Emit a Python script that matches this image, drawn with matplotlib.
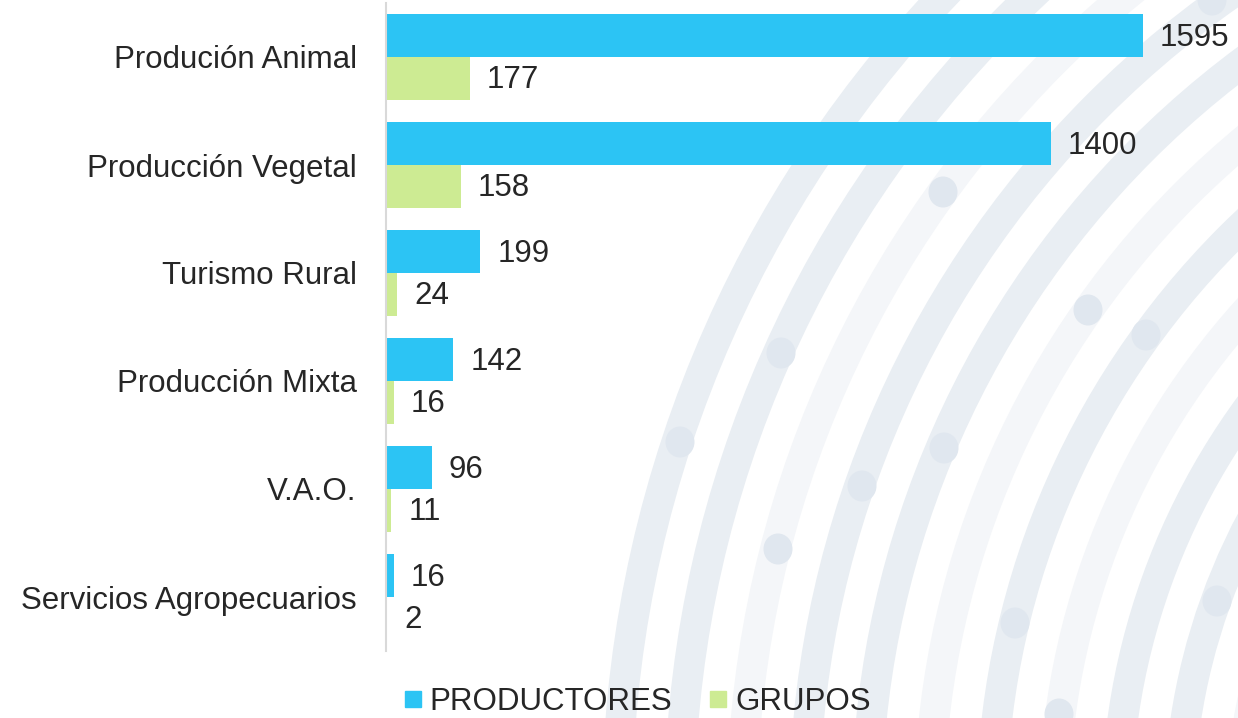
import numpy as np
import matplotlib
matplotlib.use("Agg")
import matplotlib.pyplot as plt
from matplotlib.patches import Circle, Ellipse
from matplotlib.lines import Line2D

plt.rcParams["font.family"] = ["Liberation Sans", "DejaVu Sans"]

# --- data ---
categories = ["Produción Animal", "Producción Vegetal", "Turismo Rural",
              "Producción Mixta", "V.A.O.", "Servicios Agropecuarios"]
productores = [1595, 1400, 199, 142, 96, 16]
grupos = [177, 158, 24, 16, 11, 2]
series_names = ["PRODUCTORES", "GRUPOS"]

blue = "#2cc4f4"
green = "#cdeb93"
text_col = "#262626"
dark_band = "#e9eef3"
light_band = "#f4f6f9"

W, H = 1238, 718
fig = plt.figure(figsize=(W / 100, H / 100), dpi=100)

# --- decorative background arcs, in pixel coordinates ---
bg = fig.add_axes([0, 0, 1, 1], zorder=0)
bg.set_xlim(0, W)
bg.set_ylim(H, 0)
bg.axis("off")
cx, cy = 1806, 814
radii = 1189 - 62.4 * np.arange(12)
shades = [dark_band, dark_band, light_band, dark_band, dark_band, light_band,
          dark_band, light_band, dark_band, dark_band, light_band, dark_band]
for r, c in zip(radii, shades):
    bg.add_patch(Circle((cx, cy), r, fill=False, ec=c, lw=22))
dots = [(943, 192), (1088, 310), (1146, 335), (781, 353), (680, 442), (944, 448),
        (862, 486), (778, 549), (1015, 623), (1217, 601), (1059, 714), (1212, 0)]
for d in dots:
    bg.add_patch(Ellipse(d, 29, 31, fc="#e0e7ef", ec="none"))

# --- main chart ---
ax = fig.add_axes([386 / W, 1 - 651 / H, (W - 386) / W, 648 / H], zorder=1)
ax.patch.set_alpha(0)

y = np.arange(len(categories))
h = 0.394
ax.barh(y - h / 2, productores, height=h, color=blue, label=series_names[0])
ax.barh(y + h / 2, grupos, height=h, color=green, label=series_names[1])

for yi, v in zip(y - h / 2, productores):
    ax.annotate(str(v), (v, yi), xytext=(12.2, -1.5), textcoords="offset points",
                va="center", ha="left", fontsize=22.5, color=text_col)
for yi, v in zip(y + h / 2, grupos):
    ax.annotate(str(v), (v, yi), xytext=(12.2, -1.5), textcoords="offset points",
                va="center", ha="left", fontsize=22.5, color=text_col)

ax.set_xlim(0, 1795)
ax.set_ylim(len(categories) - 0.5, -0.5)
ax.set_yticks(y)
ax.set_yticklabels(categories, fontsize=22.5, color=text_col)
ax.tick_params(axis="y", length=0, pad=21)
ax.set_xticks([])
for s in ["top", "right", "bottom"]:
    ax.spines[s].set_visible(False)
ax.spines["left"].set_color("#d9d9d9")
ax.spines["left"].set_linewidth(1.5)

handles = [Line2D([], [], marker="s", ls="none", ms=11, color=blue),
           Line2D([], [], marker="s", ls="none", ms=11, color=green)]
fig.legend(handles, series_names, loc="center", ncol=2,
           bbox_to_anchor=(0.515, 1 - 702 / H), frameon=False,
           fontsize=22.5, handlelength=0.5, handletextpad=0.3,
           columnspacing=1.2, borderpad=0, labelcolor=text_col)

fig.savefig("out.png", dpi=100)
